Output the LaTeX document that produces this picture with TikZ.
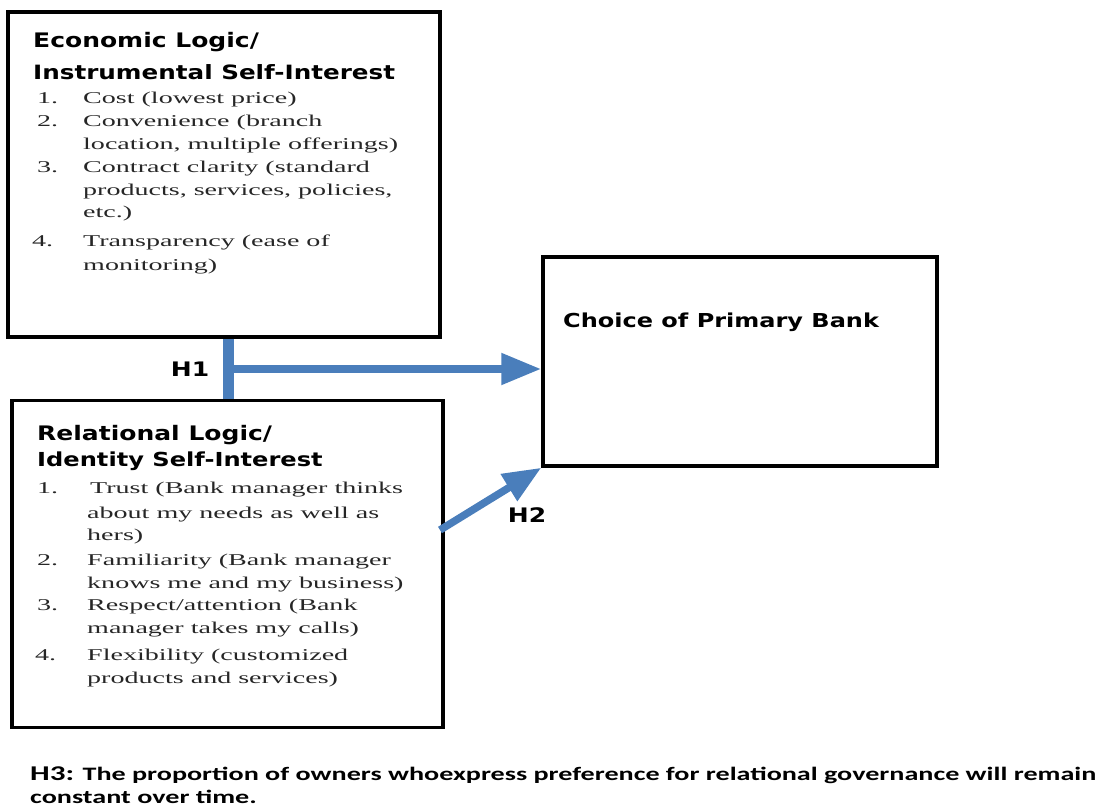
\documentclass[tikz,border=0pt]{standalone}
\usepackage{fontspec}
\usetikzlibrary{arrows.meta}
\newfontfamily\hdfont[FakeStretch=1.25]{DejaVu Sans}
\newfontfamily\bodyfont[FakeStretch=1.7]{Liberation Serif}
\newfontfamily\notefont[FakeStretch=1.48]{Carlito}
\definecolor{arrowblue}{HTML}{4A7EBB}
\tikzset{
  box/.style={draw=black, line width=3.5pt, inner sep=0pt},
  hd/.style={anchor=base west, inner sep=0pt, font=\hdfont\bfseries\fontsize{20}{24}\selectfont},
  hdsmall/.style={anchor=base west, inner sep=0pt, font=\hdfont\bfseries\fontsize{19.3}{22}\selectfont},
  item/.style={anchor=base west, inner sep=0pt, text=black!85, font=\bodyfont\fontsize{16.5}{20}\selectfont},
  hlabel/.style={inner sep=0pt, font=\hdfont\bfseries\fontsize{20}{24}\selectfont},
  note/.style={anchor=base west, inner sep=0pt, font=\notefont\bfseries\fontsize{19}{23}\selectfont},
  bluebar/.style={draw=arrowblue, line width=11pt},
  bluearrow/.style={draw=arrowblue, line width=8pt, -{Triangle[length=40pt,width=30pt]}},
  bluediag/.style={draw=arrowblue, line width=7.5pt, -{Triangle[length=38pt,width=30pt]}}
}
\begin{document}
\begin{tikzpicture}[x=1pt,y=-1pt]
\useasboundingbox (0,0) rectangle (1106,806);
% boxes
\node[box, minimum width=432pt, minimum height=325pt] (box1) at (224,174.5) {};
\node[box, minimum width=431pt, minimum height=327pt] (box2) at (227.5,564) {};
\node[box, minimum width=394pt, minimum height=209pt] (box3) at (740,361.5) {};
% box 1 text
\node[hd] (e0a) at (33,47) {Economic Logic/};
\node[hd, font=\hdfont\bfseries\fontsize{19.7}{24}\selectfont] (e0b) at (33,79) {Instrumental Self-Interest};
\node[item] (e1n) at (37,103) {1.};
\node[item] (e1a) at (83,103) {Cost (lowest price)};
\node[item] (e2n) at (37,126) {2.};
\node[item] (e2a) at (83,126) {Convenience (branch};
\node[item] (e2b) at (83,149) {location, multiple offerings)};
\node[item] (e3n) at (37,172) {3.};
\node[item] (e3a) at (83,172) {Contract clarity (standard};
\node[item] (e3b) at (83,195) {products, services, policies,};
\node[item] (e3c) at (83,217) {etc.)};
\node[item] (e4n) at (32,246) {4.};
\node[item] (e4a) at (83,246) {Transparency (ease of};
\node[item] (e4b) at (83,270) {monitoring)};
% box 2 text
\node[hd] (r0a) at (37,440) {Relational Logic/};
\node[hdsmall] (r0b) at (37,466) {Identity Self-Interest};
\node[item] (r1n) at (37,493) {1.};
\node[item] (r1a) at (90,493) {Trust (Bank manager thinks};
\node[item] (r1b) at (87,518) {about my needs as well as};
\node[item] (r1c) at (87,540) {hers)};
\node[item] (r2n) at (37,565) {2.};
\node[item] (r2a) at (87,565) {Familiarity (Bank manager};
\node[item] (r2b) at (87,588) {knows me and my business)};
\node[item] (r3n) at (37,610) {3.};
\node[item] (r3a) at (87,610) {Respect/attention (Bank};
\node[item] (r3b) at (87,633) {manager takes my calls)};
\node[item] (r4n) at (35,660) {4.};
\node[item] (r4a) at (87,660) {Flexibility (customized};
\node[item] (r4b) at (87,683) {products and services)};
% box 3 text
\node[hd, font=\hdfont\bfseries\fontsize{19.2}{23}\selectfont] (choice) at (563,327) {Choice of Primary Bank};
% connectors
\coordinate (h1s) at (228,369);
\draw[bluebar] (box1.south -| h1s) -- (box2.north -| h1s);
\draw[bluearrow] ([xshift=-5pt]h1s) -- (h1s -| box3.west);
\coordinate (h2s) at (440,530);
\draw[bluediag] (h2s) -- (box3.south west);
\node[hlabel] (h1) at (190,369) {H1};
\node[hlabel] (h2) at (527,515) {H2};
% note
\node[note] (n1) at (30,780) {\fontsize{21}{24}\selectfont H3:\fontsize{19}{23}\selectfont{} The proportion of owners whoexpress preference for relational governance will remain};
\node[note] (n2) at (30,803) {constant over time.};
\end{tikzpicture}
\end{document}
